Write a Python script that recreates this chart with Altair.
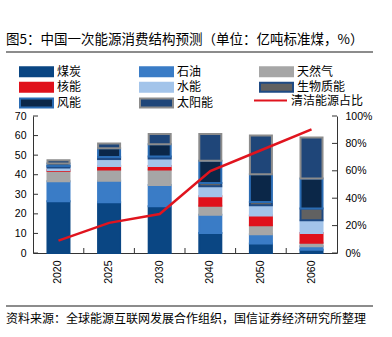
import altair as alt
import pandas as pd

# ---- data ----
years = ["2020", "2025", "2030", "2040", "2050", "2060"]
sources = ["煤炭", "石油", "天然气", "核能", "水能", "生物质能", "风能", "太阳能"]
coal = [26.4, 25.9, 23.9, 10.2, 4.8, 1.7]
oil = [10.3, 11.0, 10.9, 9.3, 4.8, 1.7]
gas = [5.3, 5.8, 7.9, 4.6, 4.6, 1.9]
nuclear = [0.4, 1.7, 1.8, 4.9, 4.9, 4.9]
hydro = [1.3, 3.6, 3.8, 5.1, 5.3, 6.5]
biomass = [0.8, 1.0, 1.0, 1.7, 1.7, 6.0]
wind = [1.2, 4.5, 6.3, 11.3, 14.2, 15.4]
solar = [1.7, 2.5, 5.2, 13.7, 19.8, 20.9]
clean_share = [0.09, 0.22, 0.285, 0.598, 0.75, 0.903]
line_name = "清洁能源占比"
left_ticks = [0, 10, 20, 30, 40, 50, 60, 70]
right_ticks = [0, 0.2, 0.4, 0.6, 0.8, 1.0]
title_text = "图5：中国一次能源消费结构预测（单位：亿吨标准煤，%）"
source_text = "资料来源：全球能源互联网发展合作组织，国信证券经济研究所整理"

fills = ["#0a4683", "#3a7cc6", "#a6a6a6", "#e0111b", "#a3c4ea", "#616161", "#0b2748", "#1f4679"]
strokes = ["#0a4683", "#3a7cc6", "#a6a6a6", "#e0111b", "#a3c4ea", "#1e4a84", "#2b6cb3", "#8c8c8c"]

series = [coal, oil, gas, nuclear, hydro, biomass, wind, solar]
rows = []
for si, (name, vals) in enumerate(zip(sources, series)):
    for y, v in zip(years, vals):
        rows.append({"year": y, "source": name, "value": v, "idx": si})
bars_df = pd.DataFrame(rows)
line_df = pd.DataFrame({"year": years, "share": clean_share})

CJK = "Noto Sans CJK SC"
LAT = "Liberation Sans"
W, H = 304, 137

xscale = alt.Scale(domain=years, paddingInner=0.565, paddingOuter=0.286)
xaxis = alt.Axis(title=None, labelAngle=-90, ticks=False, labelPadding=7,
                 labelFont=LAT, labelFontSize=10.5, labelColor="#000",
                 domainColor="#333", domainWidth=1, grid=False)

legend_bar = alt.Legend(orient="none", legendX=-13, legendY=-50.5, columns=3,
                        direction="horizontal",
                        gridAlign="all", columnPadding=30, rowPadding=-2.3,
                        symbolType="M-1.2,-0.9H5.4V0.9H-1.2Z", symbolSize=100,
                        symbolStrokeWidth=2, symbolOpacity=1, labelFont=CJK,
                        labelFontSize=12, labelColor="#000", labelOffset=25,
                        title=None, padding=0)

bars = alt.Chart(bars_df).mark_bar(strokeWidth=2).encode(
    x=alt.X("year:N", scale=xscale, axis=xaxis, sort=years),
    y=alt.Y("sum(value):Q", stack="zero",
            scale=alt.Scale(domain=[0, 70], nice=False),
            axis=alt.Axis(title=None, orient="left", values=left_ticks, ticks=False,
                          labelPadding=7, labelFont=LAT, labelFontSize=10.5,
                          labelColor="#000", domainColor="#333", grid=False)),
    fill=alt.Fill("source:N", scale=alt.Scale(domain=sources, range=fills), legend=legend_bar),
    stroke=alt.Stroke("source:N", scale=alt.Scale(domain=sources, range=strokes), legend=legend_bar),
    order=alt.Order("idx:Q", sort="ascending"),
)

line = alt.Chart(line_df).mark_line(strokeWidth=2.5).encode(
    x=alt.X("year:N", scale=xscale, sort=years),
    y=alt.Y("share:Q", scale=alt.Scale(domain=[0, 1], nice=False),
            axis=alt.Axis(title=None, orient="right", values=right_ticks, format=".0%",
                          ticks=False, labelPadding=8, labelFont=LAT, labelFontSize=10.5,
                          labelColor="#000", domainColor="#333", grid=False)),
    color=alt.Color("series:N", scale=alt.Scale(domain=[line_name], range=["#e0141e"]),
                    legend=alt.Legend(orient="none", legendX=221, legendY=-21.5,
                                      symbolType="M-1.2,0H5.4", symbolSize=100,
                                      symbolStrokeWidth=2, labelFont=CJK, labelFontSize=12,
                                      labelColor="#000", labelOffset=25, title=None,
                                      padding=0)),
).transform_calculate(series=f"'{line_name}'")

lt_df = pd.DataFrame({"v": left_ticks})
left_tick_marks = alt.Chart(lt_df).mark_rule(color="#333", strokeWidth=1).encode(
    y=alt.Y("v:Q", scale=alt.Scale(domain=[0, 70], nice=False), axis=None),
    x=alt.value(0), x2=alt.value(5))

rt_df = pd.DataFrame({"v": right_ticks})
right_tick_marks = alt.Chart(rt_df).mark_rule(color="#333", strokeWidth=1).encode(
    y=alt.Y("v:Q", scale=alt.Scale(domain=[0, 1], nice=False), axis=None),
    x=alt.value(W - 5), x2=alt.value(W))

xt_df = pd.DataFrame({"year": years[1:]})
x_tick_marks = alt.Chart(xt_df).mark_rule(color="#333", strokeWidth=1, xOffset=-14.3).encode(
    x=alt.X("year:N", scale=xscale, sort=years, bandPosition=0),
    y=alt.value(H - 5), y2=alt.value(H))

one = pd.DataFrame({"t": [title_text], "s": [source_text]})
title = alt.Chart(one).mark_text(align="left", baseline="middle", font=CJK,
                                 fontSize=13.5, color="#000").encode(
    text="t:N", x=alt.value(-27), y=alt.value(-76))
top_rule = alt.Chart(one).mark_rule(color="#8c8c8c", strokeWidth=2).encode(
    x=alt.value(-27), x2=alt.value(340), y=alt.value(-64))
bottom_rule = alt.Chart(one).mark_rule(color="#8c8c8c", strokeWidth=2).encode(
    x=alt.value(-27), x2=alt.value(340), y=alt.value(190))
source = alt.Chart(one).mark_text(align="left", baseline="middle", font=CJK,
                                  fontSize=12, color="#000").encode(
    text="s:N", x=alt.value(-27), y=alt.value(203))

chart = alt.layer(
    bars, line, left_tick_marks, right_tick_marks, x_tick_marks,
    title, top_rule, bottom_rule, source
).resolve_scale(y="independent").properties(
    width=W, height=H,
    autosize=alt.AutoSizeParams(type="none"),
    padding={"left": 33, "top": 116, "right": 55, "bottom": 84},
    background="white",
).configure_view(stroke=None)

chart.save("out.html", embed_options={"renderer": "svg", "actions": False})
